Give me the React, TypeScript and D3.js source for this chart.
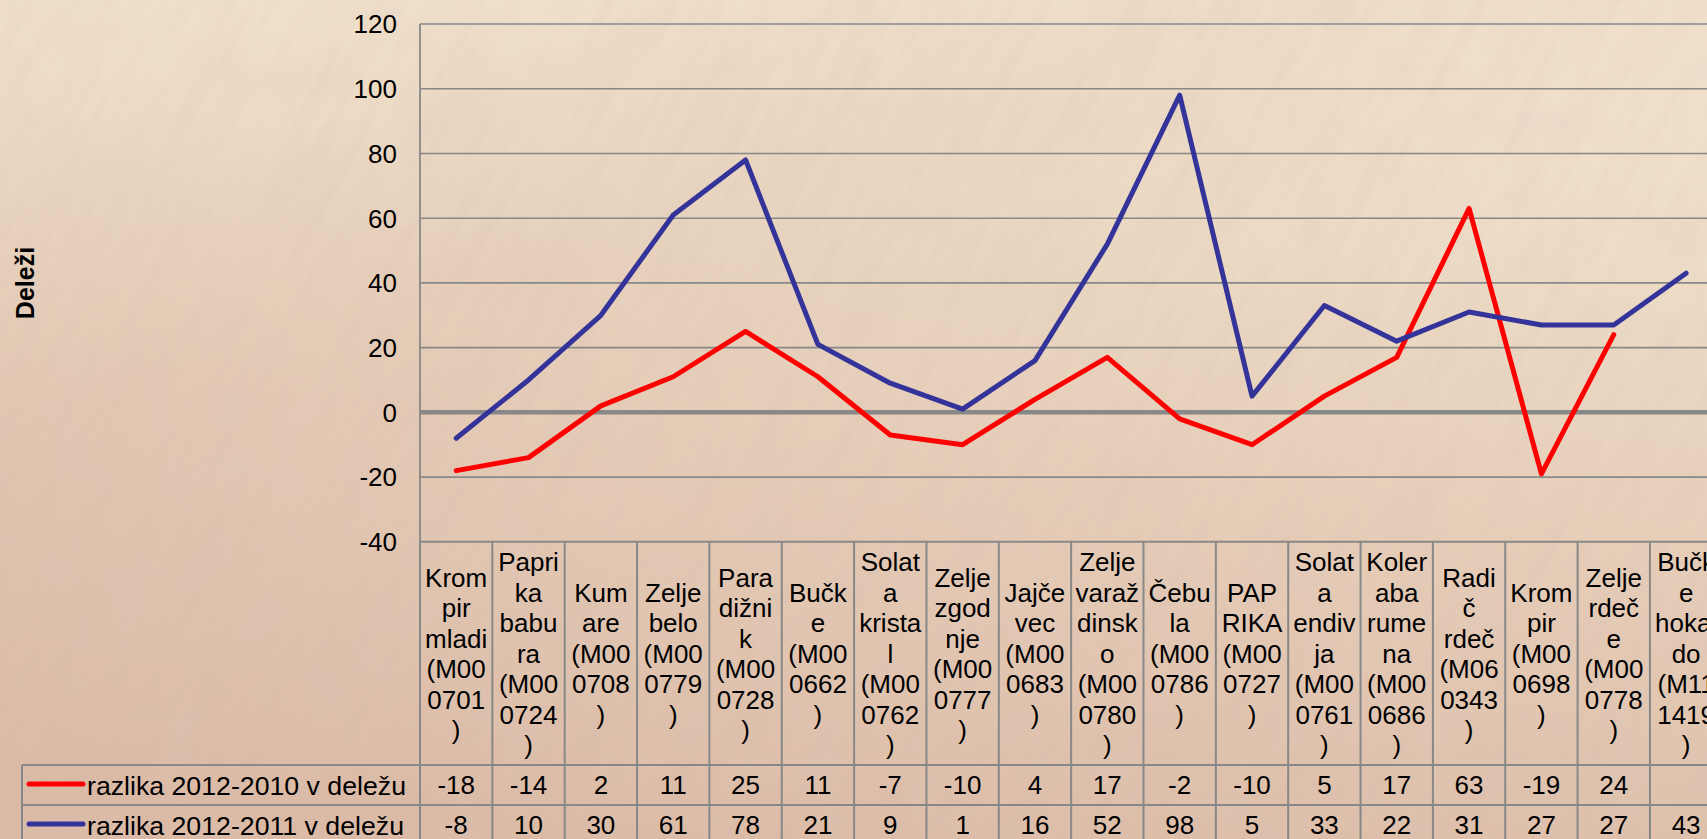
import { useEffect, useRef } from 'react';
import * as d3 from 'd3';

const W = 1707;
const H = 839;

// category labels, wrapped the way the table header shows them
const categoryLines: string[][] = [
  ['Krom', 'pir', 'mladi', '(M00', '0701', ')'],
  ['Papri', 'ka', 'babu', 'ra', '(M00', '0724', ')'],
  ['Kum', 'are', '(M00', '0708', ')'],
  ['Zelje', 'belo', '(M00', '0779', ')'],
  ['Para', 'dižni', 'k', '(M00', '0728', ')'],
  ['Bučk', 'e', '(M00', '0662', ')'],
  ['Solat', 'a', 'krista', 'l', '(M00', '0762', ')'],
  ['Zelje', 'zgod', 'nje', '(M00', '0777', ')'],
  ['Jajče', 'vec', '(M00', '0683', ')'],
  ['Zelje', 'varaž', 'dinsk', 'o', '(M00', '0780', ')'],
  ['Čebu', 'la', '(M00', '0786', ')'],
  ['PAP', 'RIKA', '(M00', '0727', ')'],
  ['Solat', 'a', 'endiv', 'ja', '(M00', '0761', ')'],
  ['Koler', 'aba', 'rume', 'na', '(M00', '0686', ')'],
  ['Radi', 'č', 'rdeč', '(M06', '0343', ')'],
  ['Krom', 'pir', '(M00', '0698', ')'],
  ['Zelje', 'rdeč', 'e', '(M00', '0778', ')'],
  ['Bučk', 'e', 'hokai', 'do', '(M11', '1419', ')'],
];

const diff2010: (number | null)[] = [-18, -14, 2, 11, 25, 11, -7, -10, 4, 17, -2, -10, 5, 17, 63, -19, 24, null];
const diff2011: (number | null)[] = [-8, 10, 30, 61, 78, 21, 9, 1, 16, 52, 98, 5, 33, 22, 31, 27, 27, 43];

const seriesNames = ['razlika 2012-2010 v deležu', 'razlika 2012-2011 v deležu'];
const seriesColors = ['#ff0000', '#333399'];
const yTicks = [-40, -20, 0, 20, 40, 60, 80, 100, 120];
const yTitle = 'Deleži';

const FONT = '"Liberation Sans", Arial, sans-serif';

export default function App() {
  const svgRef = useRef<SVGSVGElement>(null);

  useEffect(() => {
    document.body.style.margin = '0';
    if (!svgRef.current) return;
    const svg = d3.select(svgRef.current);
    svg.selectAll('*').remove();

    const plotLeft = 420;
    const colW = 72.35;
    const headerBottom = 765;
    const rowH = 40;
    const legendLeft = 22;
    const gridColor = '#888888';

    const y = d3.scaleLinear().domain([-40, 120]).range([541.8, 24]);
    const x = d3.scaleBand<number>()
      .domain(d3.range(categoryLines.length))
      .range([plotLeft, plotLeft + categoryLines.length * colW]);
    const cx = (i: number) => (x(i) ?? 0) + x.bandwidth() / 2;
    const tableTop = y(-40);

    // background: warm paper with a darker diagonal sweep and some grain
    const defs = svg.append('defs');
    const bg = defs.append('linearGradient').attr('id', 'bg')
      .attr('x1', '0.6').attr('y1', '0').attr('x2', '0.35').attr('y2', '1');
    [['0%', '#f2e3ce'], ['25%', '#eddcc6'], ['55%', '#e6cdb8'], ['100%', '#dbbba6']].forEach(([o, c]) =>
      bg.append('stop').attr('offset', o).attr('stop-color', c));

    const band = defs.append('linearGradient').attr('id', 'band')
      .attr('x1', '0').attr('y1', '0.1').attr('x2', '0.5').attr('y2', '0.8');
    [['0%', 0], ['40%', 0.1], ['70%', 0.03], ['100%', 0]].forEach(([o, a]) =>
      band.append('stop').attr('offset', o as string).attr('stop-color', '#c49c88').attr('stop-opacity', a as number));

    const streak = defs.append('filter').attr('id', 'streak').attr('x', 0).attr('y', 0).attr('width', '100%').attr('height', '100%');
    streak.append('feTurbulence').attr('type', 'fractalNoise').attr('baseFrequency', '0.008 0.07')
      .attr('numOctaves', 3).attr('seed', 4).attr('result', 'n');
    streak.append('feColorMatrix').attr('in', 'n').attr('type', 'matrix')
      .attr('values', '0 0 0 0 0.6  0 0 0 0 0.46  0 0 0 0 0.4  0 0 0 -1.2 0.75');

    const mottle = defs.append('filter').attr('id', 'mottle').attr('x', 0).attr('y', 0).attr('width', '100%').attr('height', '100%');
    mottle.append('feTurbulence').attr('type', 'fractalNoise').attr('baseFrequency', '0.02')
      .attr('numOctaves', 2).attr('seed', 9).attr('result', 'n');
    mottle.append('feColorMatrix').attr('in', 'n').attr('type', 'matrix')
      .attr('values', '0 0 0 0 0.72  0 0 0 0 0.58  0 0 0 0 0.55  0 0 0 -1.4 0.8');

    svg.append('rect').attr('width', W).attr('height', H).attr('fill', 'url(#bg)');
    svg.append('rect').attr('width', W).attr('height', H).attr('fill', 'url(#band)');
    svg.append('rect').attr('width', W).attr('height', H).attr('filter', 'url(#mottle)').attr('opacity', 0.25);
    svg.append('g').attr('transform', `rotate(-62 ${W / 2} ${H / 2})`)
      .append('rect').attr('x', -600).attr('y', -600).attr('width', W + 1200).attr('height', H + 1200)
      .attr('filter', 'url(#streak)').attr('opacity', 0.2);

    // gridlines
    const grid = svg.append('g');
    yTicks.filter(t => t !== 0 && t !== -40).forEach(t => {
      grid.append('line').attr('x1', plotLeft).attr('x2', W).attr('y1', y(t)).attr('y2', y(t))
        .attr('stroke', gridColor).attr('stroke-width', 1.6);
    });
    grid.append('line').attr('x1', plotLeft).attr('x2', W).attr('y1', y(0)).attr('y2', y(0))
      .attr('stroke', gridColor).attr('stroke-width', 4.5);
    grid.append('line').attr('x1', plotLeft).attr('x2', plotLeft).attr('y1', y(120)).attr('y2', tableTop)
      .attr('stroke', gridColor).attr('stroke-width', 1.8);

    // y tick labels
    svg.append('g').selectAll('text').data(yTicks).join('text')
      .attr('x', 397).attr('y', d => y(d)).attr('dy', '0.36em')
      .attr('text-anchor', 'end').attr('font-family', FONT).attr('font-size', 26).attr('fill', '#000')
      .text(d => String(d));

    // y title
    svg.append('text').attr('transform', 'translate(34,283) rotate(-90)')
      .attr('text-anchor', 'middle').attr('font-family', FONT).attr('font-size', 25)
      .attr('font-weight', 'bold').attr('fill', '#000').text(yTitle);

    // data table lines
    const tbl = svg.append('g').attr('stroke', gridColor).attr('stroke-width', 2);
    tbl.append('line').attr('x1', plotLeft).attr('x2', W).attr('y1', tableTop).attr('y2', tableTop);
    [headerBottom, headerBottom + rowH, headerBottom + 2 * rowH].forEach(yy =>
      tbl.append('line').attr('x1', legendLeft).attr('x2', W).attr('y1', yy).attr('y2', yy));
    tbl.append('line').attr('x1', legendLeft).attr('x2', legendLeft).attr('y1', headerBottom).attr('y2', H);
    d3.range(categoryLines.length + 1).forEach(i => {
      const xx = plotLeft + i * colW;
      if (xx > W + 2) return;
      tbl.append('line').attr('x1', xx).attr('x2', xx).attr('y1', tableTop).attr('y2', H);
    });

    // header labels (the last column runs off the right edge, as in the source)
    const lineH = 30.5;
    const headerMid = (tableTop + headerBottom) / 2;
    categoryLines.forEach((lines, i) => {
      const t = svg.append('text').attr('text-anchor', 'middle').attr('font-family', FONT)
        .attr('font-size', 26).attr('fill', '#000');
      const y0 = headerMid - (lines.length * lineH) / 2 + lineH / 2;
      lines.forEach((ln, k) => {
        t.append('tspan').attr('x', cx(i)).attr('y', y0 + k * lineH).attr('dy', '0.36em').text(ln);
      });
    });

    // table values + legend
    [diff2010, diff2011].forEach((vals, r) => {
      const rowMid = headerBottom + r * rowH + rowH / 2;
      svg.append('g').selectAll('text').data(vals).join('text')
        .attr('x', (_, i) => cx(i)).attr('y', rowMid).attr('dy', '0.36em')
        .attr('text-anchor', 'middle').attr('font-family', FONT).attr('font-size', 26).attr('fill', '#000')
        .text(d => (d === null ? '' : String(d)));
      svg.append('line').attr('x1', 29).attr('x2', 83).attr('y1', rowMid - 1).attr('y2', rowMid - 1)
        .attr('stroke', seriesColors[r]).attr('stroke-width', 5).attr('stroke-linecap', 'round');
      svg.append('text').attr('x', 87).attr('y', rowMid).attr('dy', '0.36em')
        .attr('font-family', FONT).attr('font-size', 26.7).attr('fill', '#000').text(seriesNames[r]);
    });

    // lines
    const line = d3.line<number | null>()
      .defined(d => d !== null)
      .x((_, i) => cx(i))
      .y(d => y(d as number));
    [diff2010, diff2011].forEach((vals, r) => {
      svg.append('path').attr('d', line(vals) ?? '').attr('fill', 'none')
        .attr('stroke', seriesColors[r]).attr('stroke-width', 5)
        .attr('stroke-linejoin', 'round').attr('stroke-linecap', 'round');
    });
  }, []);

  return <svg ref={svgRef} width={W} height={H} style={{ display: 'block' }} />;
}
